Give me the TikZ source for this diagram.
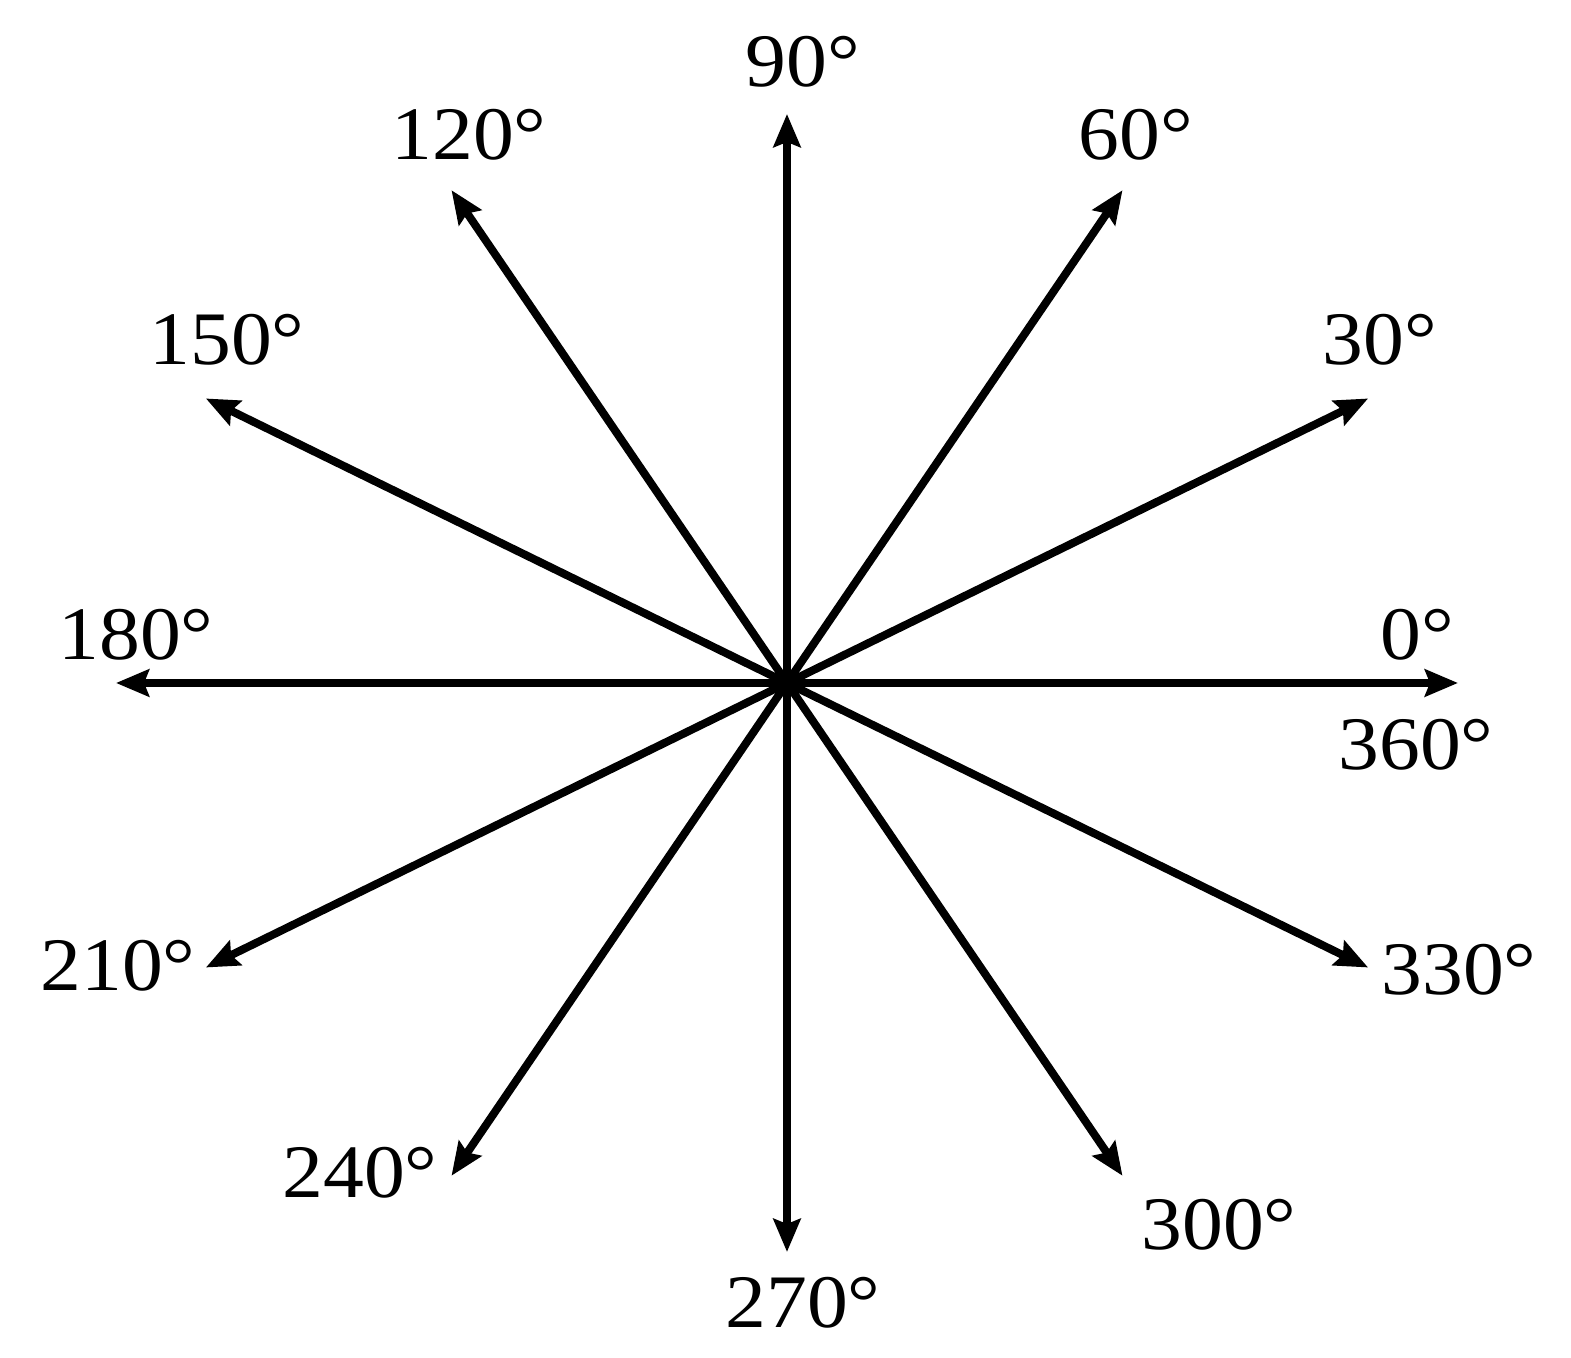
\documentclass[tikz,border=0pt]{standalone}
\usepackage{fontspec}
\setmainfont{Liberation Serif}
\newfontfamily\anglefont[FakeStretch=1.08]{Liberation Serif}
\usepackage{tikz}
\usetikzlibrary{arrows.meta}

\begin{document}
\begin{tikzpicture}
    [
    ray/.style={line width=0.08cm,-{Stealth[length=0.33cm,width=0.27cm,inset=0.05cm]}},
    angle/.style={inner sep=0pt,font=\anglefont\fontsize{21.5}{25}\selectfont},
    ]
    \useasboundingbox (-7.87,-6.75) rectangle (7.84,6.83);
    \coordinate (o) at (0,0);
    \coordinate (t0) at (0:6.71cm and 5.69cm);
    \coordinate (t30) at (30:6.71cm and 5.69cm);
    \coordinate (t60) at (60:6.71cm and 5.69cm);
    \coordinate (t90) at (90:6.71cm and 5.69cm);
    \coordinate (t120) at (120:6.71cm and 5.69cm);
    \coordinate (t150) at (150:6.71cm and 5.69cm);
    \coordinate (t180) at (180:6.71cm and 5.69cm);
    \coordinate (t210) at (210:6.71cm and 5.69cm);
    \coordinate (t240) at (240:6.71cm and 5.69cm);
    \coordinate (t270) at (270:6.71cm and 5.69cm);
    \coordinate (t300) at (300:6.71cm and 5.69cm);
    \coordinate (t330) at (330:6.71cm and 5.69cm);
    \draw [ray] (o) to (t0);
    \draw [ray] (o) to (t30);
    \draw [ray] (o) to (t60);
    \draw [ray] (o) to (t90);
    \draw [ray] (o) to (t120);
    \draw [ray] (o) to (t150);
    \draw [ray] (o) to (t180);
    \draw [ray] (o) to (t210);
    \draw [ray] (o) to (t240);
    \draw [ray] (o) to (t270);
    \draw [ray] (o) to (t300);
    \draw [ray] (o) to (t330);

    \node (l0) at (6.30,0.48) [angle] {0°};
    \node (l360) at (6.29,-0.62) [angle] {360°};
    \node (l30) at (5.93,3.43) [angle] {30°};
    \node (l60) at (3.49,5.48) [angle] {60°};
    \node (l90) at (0.16,6.21) [angle] {90°};
    \node (l120) at (-3.18,5.48) [angle] {120°};
    \node (l150) at (-5.60,3.43) [angle] {150°};
    \node (l180) at (-6.51,0.48) [angle] {180°};
    \node (l210) at (-6.69,-2.83) [angle] {210°};
    \node (l240) at (-4.27,-4.90) [angle] {240°};
    \node (l270) at (0.16,-6.20) [angle] {270°};
    \node (l300) at (4.32,-5.42) [angle] {300°};
    \node (l330) at (6.72,-2.87) [angle] {330°};
  \end{tikzpicture}
\end{document}
